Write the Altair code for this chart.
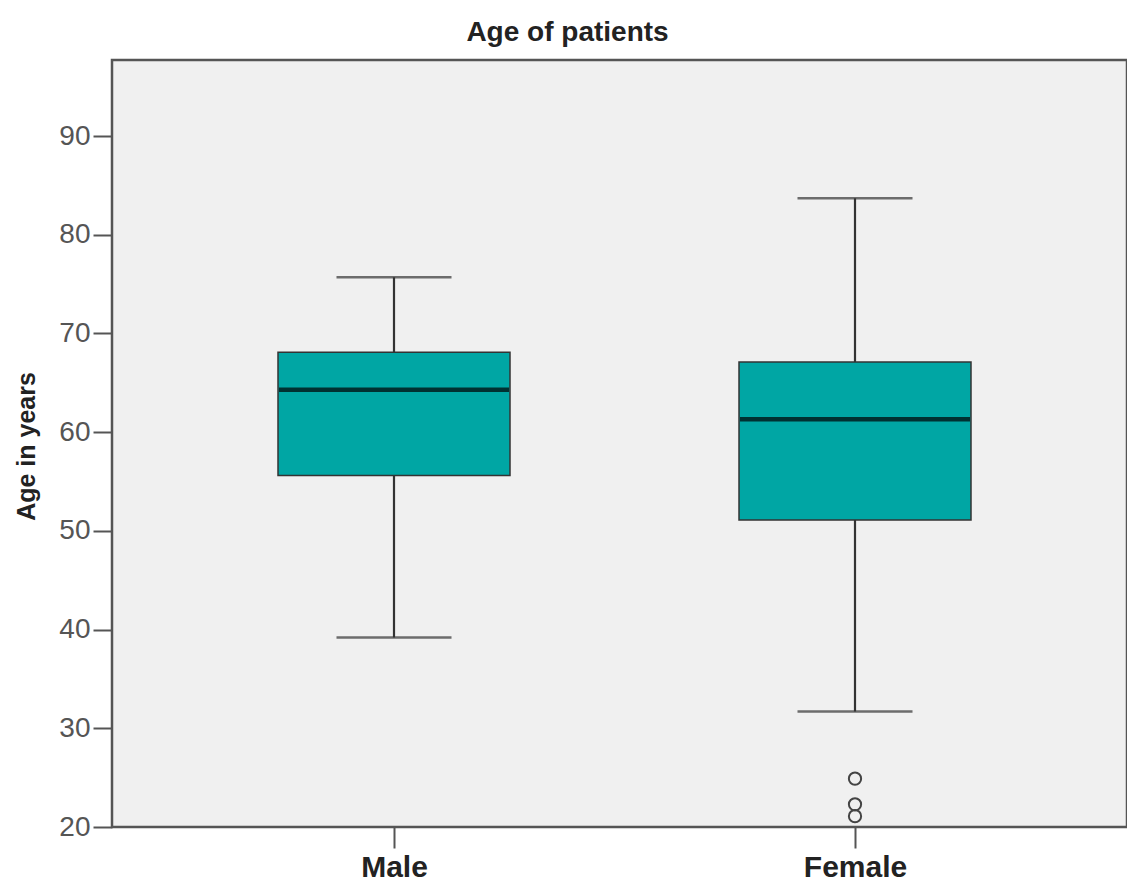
import altair as alt
import pandas as pd

# Data
categories = ["Male", "Female"]
whisker_low = [39.2, 31.7]
q1 = [55.6, 51.1]
median = [64.3, 61.3]
q3 = [68.1, 67.1]
whisker_high = [75.7, 83.7]
outlier_cat = ["Female", "Female", "Female"]
outlier_val = [24.9, 22.3, 21.1]
y_ticks = [20, 30, 40, 50, 60, 70, 80, 90]

stats = pd.DataFrame({
    "sex": categories,
    "lo": whisker_low,
    "q1": q1,
    "med": median,
    "q3": q3,
    "hi": whisker_high,
})
outliers = pd.DataFrame({"sex": outlier_cat, "age": outlier_val})

FONT = "Liberation Sans"

x_scale = alt.Scale(type="point", padding=0, range=[282, 743])
x_enc = alt.X(
    "sex:N",
    sort=categories,
    scale=x_scale,
    axis=alt.Axis(
        title=None,
        labelFont=FONT,
        labelFontSize=30,
        labelFontWeight="bold",
        labelColor="#222222",
        labelAngle=0,
        labelPadding=4,
        tickSize=21,
        tickWidth=2,
        tickColor="#555555",
        domain=False,
        grid=False,
    ),
)
y_scale = alt.Scale(domain=[20, 97.7], nice=False, zero=False)
y_axis = alt.Axis(
    title="Age in years",
    titleFont=FONT,
    titleFontSize=25,
    titleFontWeight="bold",
    titleColor="#222222",
    titleAngle=-90,
    titleX=-86,
    titleY=386,
    titleAlign="center",
    titleBaseline="middle",
    values=y_ticks,
    labelFont=FONT,
    labelFontSize=28,
    labelColor="#555555",
    labelPadding=3,
    tickSize=19,
    tickWidth=2,
    tickColor="#555555",
    domain=False,
    grid=False,
)

base = alt.Chart(stats).encode(x=x_enc)

whisker = base.mark_rule(color="#333333", strokeWidth=2.2).encode(
    y=alt.Y("lo:Q", scale=y_scale, axis=y_axis), y2="hi:Q"
)
cap_lo = base.mark_tick(color="#333333", size=115, thickness=2.5).encode(
    y=alt.Y("lo:Q", scale=y_scale)
)
cap_hi = base.mark_tick(color="#333333", size=115, thickness=2.5).encode(
    y=alt.Y("hi:Q", scale=y_scale)
)
box = base.mark_bar(
    size=232, fill="#00a6a4", stroke="#333333", strokeWidth=1.5
).encode(y=alt.Y("q1:Q", scale=y_scale), y2="q3:Q")
med = base.mark_tick(color="#000000", size=230, thickness=4.5).encode(
    y=alt.Y("med:Q", scale=y_scale)
)
pts = alt.Chart(outliers).mark_point(
    shape="circle", filled=False, size=150, color="#444444", strokeWidth=2, opacity=1
).encode(x=alt.X("sex:N", sort=categories, scale=x_scale), y=alt.Y("age:Q", scale=y_scale))

chart = (
    alt.layer(whisker, cap_lo, cap_hi, box, med, pts)
    .properties(
        width=1015,
        height=767,
        title=alt.TitleParams(
            "Age of patients",
            font=FONT,
            fontSize=28,
            fontWeight="bold",
            color="#222222",
            anchor="middle",
            dx=-52,
            offset=13,
        ),
        autosize=alt.AutoSizeParams(type="none"),
        padding={"left": 104, "top": 52, "right": 0, "bottom": 54},
        background="white",
    )
    .configure_view(fill="#f0f0f0", stroke="#555555", strokeWidth=2.5)
)

chart.save("out.html", embed_options={"renderer": "svg", "actions": False})
